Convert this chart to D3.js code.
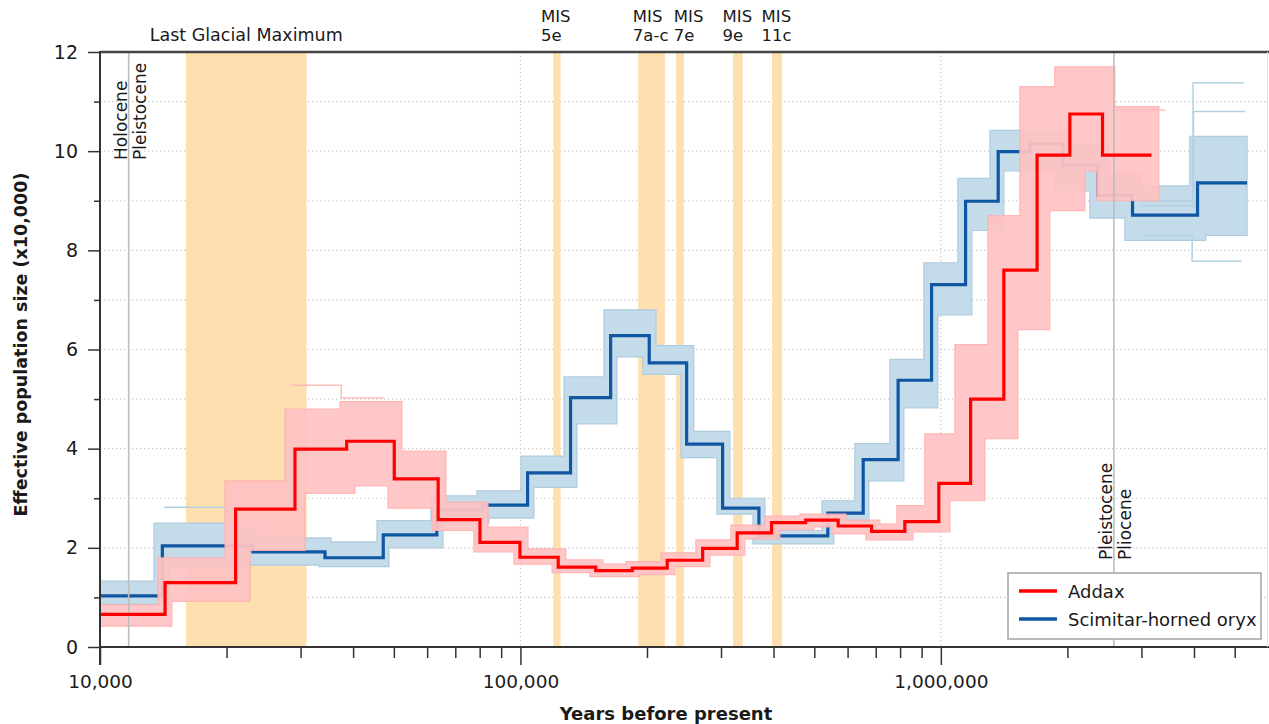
<!DOCTYPE html>
<html>
<head>
<meta charset="utf-8">
<script src="https://cdn.jsdelivr.net/npm/d3@7"></script>
<style>
  body { margin: 0; background: #fff; }
  text { font-family: "DejaVu Sans", sans-serif; fill: #1a1a1a; }
</style>
</head>
<body>
<div id="chart"></div>
<script>
// ---- data (years before present, Ne in units of 10,000) ----

// main PSMC curves: step starts (last entry = end of curve) and the value of each step
const addaxYears = [10000, 14280, 21020, 29090, 38610, 50110, 63730, 80120, 99730, 123000, 151000, 184500,
  223400, 271300, 327800, 395700, 476800, 569900, 684300, 821000, 989000, 1177000, 1412000, 1694000,
  2027000, 2424000, 3170000];
const addaxNe = [0.66, 1.30, 2.78, 3.99, 4.15, 3.39, 2.57, 2.11, 1.81, 1.61, 1.54, 1.59, 1.75, 1.99, 2.30,
  2.51, 2.56, 2.44, 2.33, 2.53, 3.30, 5.00, 7.60, 9.92, 10.75, 9.92];

const oryxYears = [10000, 14070, 23120, 34290, 47180, 63270, 81450, 104000, 131600, 163900, 202500, 248500,
  302600, 369200, 538500, 653600, 791400, 950400, 1145000, 1369000, 1628000, 1951000, 2362000, 2857000,
  4079000, 5350000];
const oryxNe = [1.03, 2.04, 1.92, 1.80, 2.26, 2.76, 2.86, 3.51, 5.03, 6.28, 5.73, 4.09, 2.80, 2.24, 2.70,
  3.78, 5.38, 7.31, 8.99, 9.99, 10.15, 9.72, 9.11, 8.71, 9.36];

// bootstrap spread: upper and lower edges of the light halos
const addaxHiYears = [10000, 13740, 19830, 27540, 37220, 52260, 66510, 83720, 104200, 128300, 157100, 178200,
  215900, 261400, 316700, 381500, 462100, 594500, 716000, 786000, 916000, 1080000, 1294000, 1542000,
  1866000, 2593000, 3300000];
const addaxHiNe = [0.85, 1.80, 3.35, 4.80, 4.95, 3.95, 2.92, 2.42, 1.98, 1.76, 1.67, 1.72, 1.90, 2.16, 2.46,
  2.64, 2.68, 2.56, 2.48, 2.85, 4.30, 6.10, 8.70, 11.30, 11.70, 10.90];
const addaxLoYears = [10000, 14830, 22740, 30730, 40410, 48410, 61600, 77520, 96500, 118900, 146300, 192400,
  233000, 282300, 341900, 414200, 498900, 550600, 663300, 858000, 1051000, 1273000, 1525000, 1816000,
  2200000, 2350000, 3300000];
const addaxLoNe = [0.42, 0.92, 1.95, 3.10, 3.25, 2.80, 2.35, 1.92, 1.67, 1.50, 1.42, 1.46, 1.62, 1.85, 2.18,
  2.36, 2.42, 2.28, 2.16, 2.32, 2.95, 4.20, 6.40, 8.80, 9.60, 9.00];

const oryxHiYears = [10000, 13440, 23880, 35430, 45580, 61260, 78810, 100300, 126900, 158000, 210100, 258500,
  315000, 381500, 521200, 624400, 756200, 911000, 1097600, 1308000, 2038000, 2495000, 2990000, 3910000, 5350000];
const oryxHiNe = [1.33, 2.50, 2.20, 2.12, 2.55, 3.05, 3.15, 3.85, 5.45, 6.80, 6.08, 4.35, 3.00, 2.35, 2.95,
  4.10, 5.80, 7.75, 9.45, 10.42, 10.15, 9.55, 9.30, 10.30];
const oryxLoYears = [10000, 14670, 22370, 33180, 48680, 65430, 84180, 107700, 136300, 169700, 195600, 240900,
  293400, 357300, 556600, 674300, 816600, 983700, 1185000, 1412000, 1866000, 2261000, 2739000, 4268000, 5350000];
const oryxLoNe = [0.86, 1.60, 1.65, 1.62, 2.00, 2.50, 2.60, 3.22, 4.50, 5.85, 5.50, 3.82, 2.68, 2.08, 2.45,
  3.35, 4.82, 6.70, 8.40, 9.60, 9.20, 8.65, 8.20, 8.30];

// a few stray bootstrap runs outside the dense halo
const addaxStrayYears = [[28500, 37500, 47500], [2600000, 3420000]];
const addaxStrayNe = [[5.28, 5.02], [10.83]];
const oryxStrayYears = [[3000000, 3980000, 5250000], [3000000, 3990000, 5300000], [3050000, 3960000, 5200000], [14200, 21500]];
const oryxStrayNe = [[9.0, 11.38], [8.9, 10.80], [8.3, 7.78], [2.82]];

// shaded periods
const lgmRange = [16000, 31000];
const misNames = ["5e", "7a-c", "7e", "9e", "11c"];
const misStart = [119700, 190600, 234300, 320600, 396800];
const misEnd = [124600, 220600, 244800, 337700, 419200];
const misLabelYear = [111900, 185100, 231700, 302600, 374600];

// epoch boundaries
const epochYears = [11700, 2580000];
const epochNames = [["Holocene", "Pleistocene"], ["Pleistocene", "Pliocene"]];

const xMajor = [10000, 100000, 1000000];
const yMajor = [0, 2, 4, 6, 8, 10, 12];
const yMinor = [1, 3, 5, 7, 9, 11];

// ---- drawing ----
const width = 1269, height = 724;
const plot = {left: 100, right: 1268, top: 52, bottom: 647};

const svg = d3.select('#chart').append('svg')
  .attr('width', width)
  .attr('height', height);

const x = d3.scaleLog().domain([1e4, 6e6]).range([plot.left, plot.right]);
const y = d3.scaleLinear().domain([0, 12]).range([plot.bottom, plot.top]);

svg.append('defs').append('clipPath').attr('id', 'plotclip')
  .append('rect')
  .attr('x', plot.left).attr('y', plot.top)
  .attr('width', plot.right - plot.left).attr('height', plot.bottom - plot.top);

// grid
const grid = svg.append('g').attr('class', 'grid')
  .attr('stroke', '#c8c8c8').attr('stroke-width', 1.2).attr('stroke-dasharray', '1.3,2.7');
grid.selectAll('line.h').data(d3.range(1, 12)).enter().append('line')
  .attr('x1', plot.left).attr('x2', plot.right)
  .attr('y1', d => y(d)).attr('y2', d => y(d));
grid.selectAll('line.v').data(xMajor.slice(1)).enter().append('line')
  .attr('x1', d => x(d)).attr('x2', d => x(d))
  .attr('y1', plot.top).attr('y2', plot.bottom);

// shaded periods
const bands = svg.append('g').attr('fill', '#fddfb0');
bands.append('rect')
  .attr('x', x(lgmRange[0])).attr('width', x(lgmRange[1]) - x(lgmRange[0]))
  .attr('y', plot.top).attr('height', plot.bottom - plot.top);
bands.selectAll('rect.mis').data(misNames).enter().append('rect')
  .attr('class', 'mis')
  .attr('x', (d, i) => x(misStart[i]))
  .attr('width', (d, i) => x(misEnd[i]) - x(misStart[i]))
  .attr('y', plot.top).attr('height', plot.bottom - plot.top);

// step helpers
function stepPoints(years, ne) {
  const pts = [];
  ne.forEach((v, i) => {
    pts.push([years[i], v]);
    pts.push([years[i + 1], v]);
  });
  return pts;
}
const line = d3.line().x(d => x(d[0])).y(d => y(d[1]));

function halo(g, hiY, hiN, loY, loN, fill, stroke) {
  const pts = stepPoints(hiY, hiN).concat(stepPoints(loY, loN).reverse());
  g.append('path')
    .attr('d', line(pts) + 'Z')
    .attr('fill', fill)
    .attr('stroke', stroke)
    .attr('stroke-width', 1.2)
    .attr('stroke-linejoin', 'miter');
}
function strays(g, yearsList, neList, stroke) {
  yearsList.forEach((yrs, k) => {
    g.append('path')
      .attr('d', line(stepPoints(yrs, neList[k])))
      .attr('fill', 'none')
      .attr('stroke', stroke)
      .attr('stroke-width', 1.5);
  });
}

const data = svg.append('g').attr('clip-path', 'url(#plotclip)');

// oryx bootstraps + main
halo(data, oryxHiYears, oryxHiNe, oryxLoYears, oryxLoNe, '#c4dbea', '#aecce0');
strays(data, oryxStrayYears, oryxStrayNe, '#b4d1e4');
data.append('path')
  .attr('d', line(stepPoints(oryxYears, oryxNe)))
  .attr('fill', 'none').attr('stroke', '#0f56a3').attr('stroke-width', 3.2);

// addax bootstraps
const addaxHalo = data.append('g').attr('opacity', 0.93);
halo(addaxHalo, addaxHiYears, addaxHiNe, addaxLoYears, addaxLoNe, '#ffc3c3', '#ffb1b1');
strays(addaxHalo, addaxStrayYears, addaxStrayNe, '#ffb8b8');

// epoch boundaries
data.selectAll('line.epoch').data(epochYears).enter().append('line')
  .attr('x1', d => x(d)).attr('x2', d => x(d))
  .attr('y1', plot.top).attr('y2', plot.bottom)
  .attr('stroke', '#bdbdbd').attr('stroke-width', 1.6);

// addax main
data.append('path')
  .attr('d', line(stepPoints(addaxYears, addaxNe)))
  .attr('fill', 'none').attr('stroke', '#ff0000').attr('stroke-width', 3.2);

// epoch labels (rotated)
const epochLabelBottom = [160, 560];
epochNames.forEach((pair, i) => {
  const lx = x(epochYears[i]);
  const offsets = [-1.5, 17];
  pair.forEach((name, j) => {
    svg.append('text')
      .attr('transform', `translate(${lx + offsets[j]},${epochLabelBottom[i]}) rotate(-90)`)
      .attr('font-size', 17)
      .text(name);
  });
});

// axes
const tickStyle = g => {
  g.select('.domain').remove();
  g.selectAll('.tick line').attr('stroke', '#333').attr('stroke-width', 1.5);
  g.selectAll('.tick text').attr('fill', '#1a1a1a');
};

const xMinor = x.ticks().filter(t => !xMajor.includes(t) && t < 6e6);
svg.append('g').attr('transform', `translate(0,${plot.bottom})`)
  .call(d3.axisBottom(x).tickValues(xMinor).tickSize(11).tickFormat(''))
  .call(tickStyle);
svg.append('g').attr('transform', `translate(0,${plot.bottom})`)
  .call(d3.axisBottom(x).tickValues(xMajor).tickSize(18).tickPadding(10).tickFormat(d3.format(',')))
  .call(tickStyle)
  .call(g => g.selectAll('.tick text')
    .attr('font-family', '"DejaVu Sans", sans-serif').attr('font-size', 18.5));

svg.append('g').attr('transform', `translate(${plot.left},0)`)
  .call(d3.axisLeft(y).tickValues(yMinor).tickSize(6).tickFormat(''))
  .call(tickStyle);
svg.append('g').attr('transform', `translate(${plot.left},0)`)
  .call(d3.axisLeft(y).tickValues(yMajor).tickSize(12).tickPadding(10))
  .call(tickStyle)
  .call(g => g.selectAll('.tick text')
    .attr('font-family', '"Liberation Sans", Arial, sans-serif').attr('font-size', 19));

// spines
svg.append('line').attr('x1', plot.left).attr('x2', width).attr('y1', plot.top).attr('y2', plot.top)
  .attr('stroke', '#444').attr('stroke-width', 2.6);
svg.append('line').attr('x1', plot.left).attr('x2', width).attr('y1', plot.bottom).attr('y2', plot.bottom)
  .attr('stroke', '#333').attr('stroke-width', 2);
svg.append('line').attr('x1', plot.left).attr('x2', plot.left).attr('y1', plot.top - 1).attr('y2', plot.bottom + 18)
  .attr('stroke', '#333').attr('stroke-width', 2);
svg.append('line').attr('x1', plot.right - 0.5).attr('x2', plot.right - 0.5).attr('y1', plot.top).attr('y2', plot.bottom)
  .attr('stroke', '#e2e2e2').attr('stroke-width', 1);

// period labels on top
svg.append('text')
  .attr('x', x(Math.sqrt(lgmRange[0] * lgmRange[1])))
  .attr('y', 40.5)
  .attr('text-anchor', 'middle')
  .attr('font-size', 17.5)
  .text('Last Glacial Maximum');

misNames.forEach((name, i) => {
  svg.append('text').attr('font-size', 16.5)
    .attr('x', x(misLabelYear[i])).attr('y', 21.5).text('MIS');
  svg.append('text').attr('font-size', 16.5)
    .attr('x', x(misLabelYear[i])).attr('y', 41).text(name);
});

// axis titles
svg.append('text')
  .attr('x', 666).attr('y', 720)
  .attr('text-anchor', 'middle')
  .attr('font-size', 18).attr('font-weight', 'bold')
  .text('Years before present');
svg.append('text')
  .attr('transform', `translate(27,${(plot.top + plot.bottom) / 2 - 5}) rotate(-90)`)
  .attr('text-anchor', 'middle')
  .attr('font-size', 17.5).attr('font-weight', 'bold')
  .text('Effective population size (x10,000)');

// legend
const legendItems = ['Addax', 'Scimitar-horned oryx'];
const legendColors = ['#ff0000', '#0f56a3'];
const legend = svg.append('g').attr('transform', 'translate(1008,573)');
legend.append('rect')
  .attr('width', 253).attr('height', 66)
  .attr('fill', '#fff').attr('stroke', '#a8a8a8').attr('stroke-width', 1.6);
legendItems.forEach((name, i) => {
  legend.append('line')
    .attr('x1', 11).attr('x2', 49)
    .attr('y1', 18 + i * 28).attr('y2', 18 + i * 28)
    .attr('stroke', legendColors[i]).attr('stroke-width', 3.6);
  legend.append('text')
    .attr('x', 60).attr('y', 24.5 + i * 28)
    .attr('font-size', 18)
    .text(name);
});
</script>
</body>
</html>
